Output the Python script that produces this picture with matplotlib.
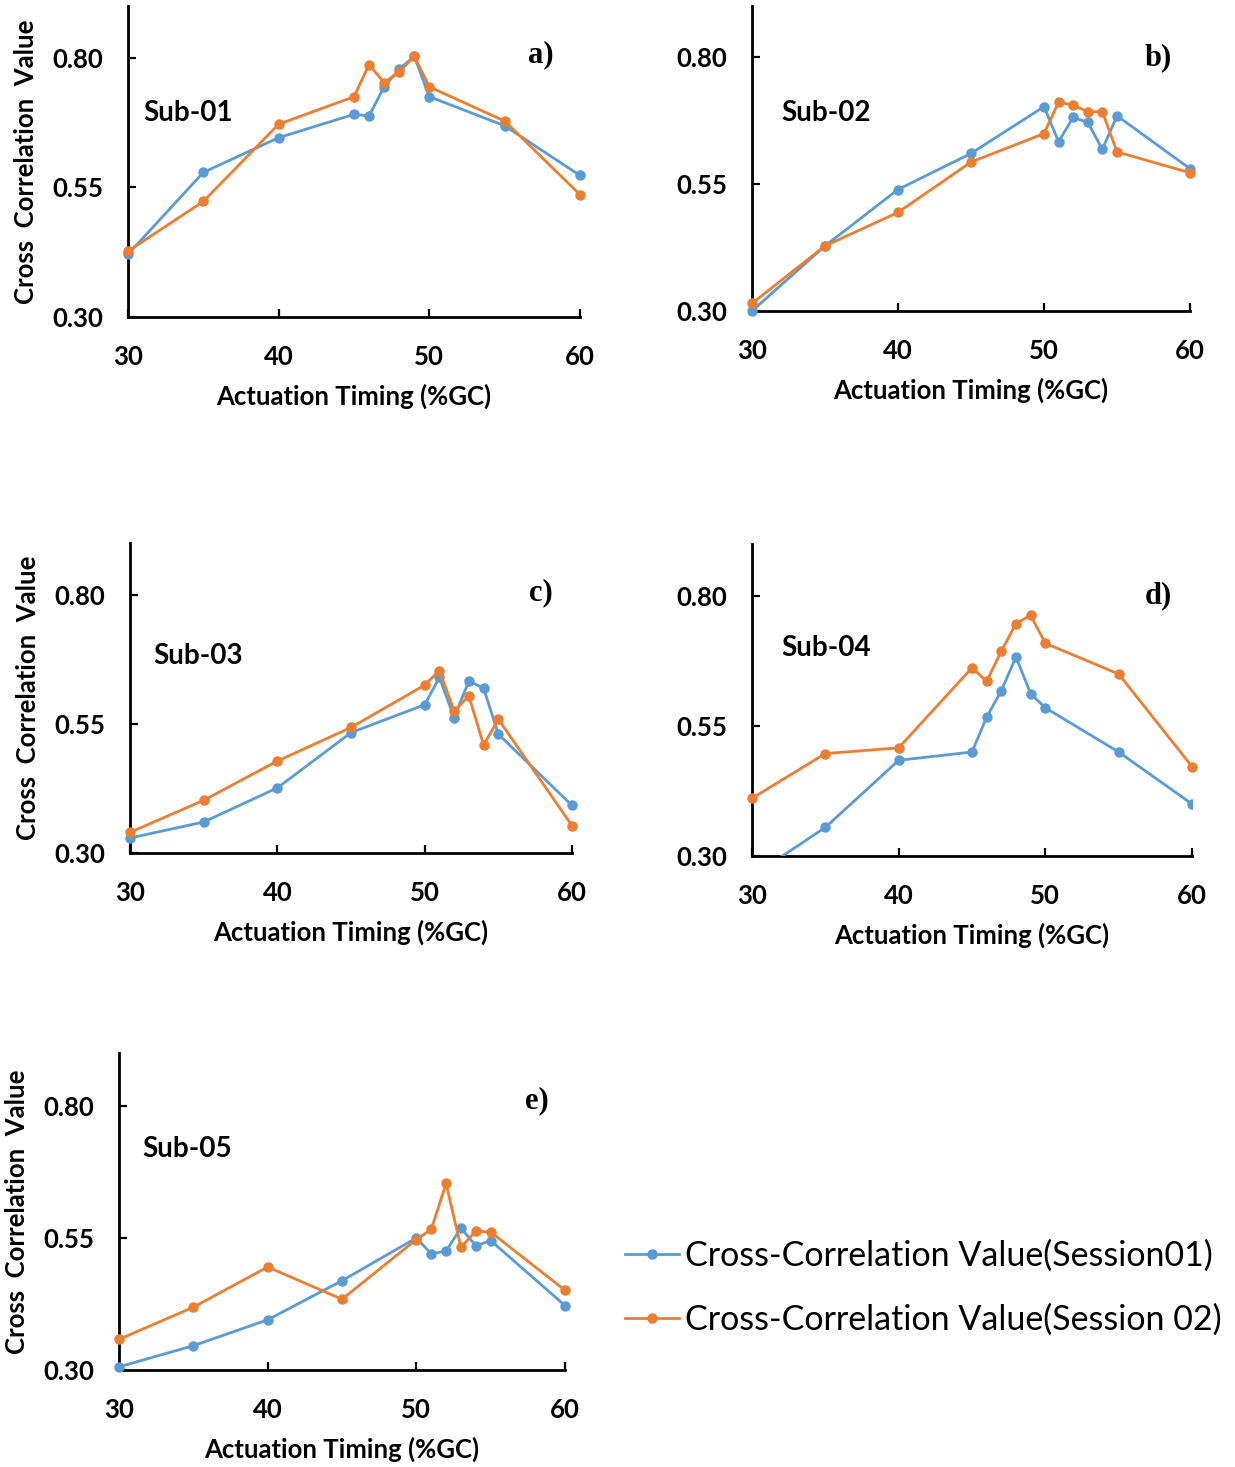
#!/usr/bin/env python3
"""
Cross correlation value vs actuation timing (%GC) for five subjects,
two sessions each. Panels a)-e) plus a shared legend in the empty slot.
"""
import matplotlib

matplotlib.use("Agg")
import matplotlib.pyplot as plt

# data ----------------------------------------------------------------

# x grids (actuation timing, %GC)
X_FINE_LOW = [30, 35, 40, 45, 46, 47, 48, 49, 50, 55, 60]   # sub-01, sub-04
X_FINE_HIGH = [30, 35, 40, 45, 50, 51, 52, 53, 54, 55, 60]  # sub-02, sub-03, sub-05

SUB01_S1 = [0.421, 0.579, 0.646, 0.691, 0.688, 0.744, 0.778, 0.803, 0.725, 0.669, 0.573]
SUB01_S2 = [0.427, 0.523, 0.672, 0.725, 0.787, 0.752, 0.773, 0.803, 0.744, 0.678, 0.536]

SUB02_S1 = [0.300, 0.428, 0.539, 0.610, 0.702, 0.633, 0.681, 0.671, 0.618, 0.684, 0.580]
SUB02_S2 = [0.315, 0.428, 0.494, 0.593, 0.649, 0.711, 0.705, 0.692, 0.692, 0.613, 0.572]

SUB03_S1 = [0.329, 0.360, 0.426, 0.533, 0.587, 0.640, 0.562, 0.633, 0.619, 0.530, 0.392]
SUB03_S2 = [0.340, 0.402, 0.478, 0.543, 0.625, 0.653, 0.575, 0.604, 0.509, 0.559, 0.353]

SUB04_S1 = [0.261, 0.355, 0.484, 0.500, 0.567, 0.618, 0.683, 0.612, 0.585, 0.500, 0.400]
SUB04_S2 = [0.411, 0.497, 0.508, 0.662, 0.636, 0.694, 0.747, 0.763, 0.709, 0.650, 0.472]

SUB05_S1 = [0.306, 0.346, 0.395, 0.469, 0.550, 0.520, 0.525, 0.569, 0.535, 0.545, 0.422]
SUB05_S2 = [0.358, 0.419, 0.495, 0.434, 0.547, 0.566, 0.653, 0.532, 0.563, 0.561, 0.451]

SUBJECTS = ["Sub-01", "Sub-02", "Sub-03", "Sub-04", "Sub-05"]
PANEL_TAGS = ["a)", "b)", "c)", "d)", "e)"]
SERIES_NAMES = ["Cross-Correlation Value(Session01)", "Cross-Correlation Value(Session 02)"]

X_TICKS = [30, 40, 50, 60]
Y_TICKS = [0.30, 0.55, 0.80]

# styling -------------------------------------------------------------

BLUE = "#5B9BD5"
ORANGE = "#ED7D31"
SANS = ["Lato", "DejaVu Sans"]
SERIF = ["Liberation Serif", "DejaVu Serif"]

FIG_W, FIG_H = 1235, 1467  # pixels

# axes boxes in pixels: (left, top, right, bottom)
BOXES = [
    (128, 6, 580, 317),
    (752, 6, 1190, 311),
    (130, 543, 572, 853),
    (752, 544, 1192, 856),
    (119, 1053, 565, 1370),
]
# which panels carry the y label
HAS_YLABEL = [True, False, True, False, True]
# (x, y) in data coords for subject label and panel tag
SUB_POS = [(31.0, 0.694), (32.0, 0.690), (31.6, 0.682), (32.0, 0.700), (31.6, 0.719)]
TAG_POS = [(57.4, 0.806), (57.8, 0.798), (57.9, 0.804), (57.7, 0.800), (58.1, 0.810)]


def px_box(box):
    l, t, r, b = box
    return [l / FIG_W, 1 - b / FIG_H, (r - l) / FIG_W, (b - t) / FIG_H]


def draw_panel(ax, x, s1, s2, idx):
    for ys, col in ((s1, BLUE), (s2, ORANGE)):
        # only clip when a series actually leaves the axis range
        clip = min(ys) < Y_TICKS[0]
        ax.plot(x, ys, color=col, lw=2.0, marker="o", ms=6.5, clip_on=clip, zorder=3)

    ax.set_xlim(30, 60)
    ax.set_ylim(0.30, 0.90)
    ax.set_xticks(X_TICKS)
    ax.set_yticks(Y_TICKS)
    ax.set_yticklabels([f"{v:.2f}" for v in Y_TICKS])

    for side in ("top", "right"):
        ax.spines[side].set_visible(False)
    for side in ("left", "bottom"):
        ax.spines[side].set_linewidth(2.0)

    ax.tick_params(axis="both", direction="in", length=6, width=1.6, labelsize=18.5)
    ax.tick_params(axis="x", pad=20)
    ax.tick_params(axis="y", pad=18)
    for lab in ax.get_xticklabels() + ax.get_yticklabels():
        lab.set_fontweight("bold")
        lab.set_family(SANS)

    ax.set_xlabel("Actuation Timing (%GC)", fontsize=18.5, fontweight="bold", family=SANS, labelpad=11)
    if HAS_YLABEL[idx]:
        ax.set_ylabel("Cross  Correlation  Value", fontsize=18.5, fontweight="bold", family=SANS, labelpad=10)

    sx, sy = SUB_POS[idx]
    ax.text(sx, sy, SUBJECTS[idx], fontsize=20, fontweight="bold", family=SANS, ha="left", va="center")
    tx, ty = TAG_POS[idx]
    ax.text(tx, ty, PANEL_TAGS[idx], fontsize=22, fontweight="bold", family=SERIF, ha="center", va="center")


def main():
    fig = plt.figure(figsize=(FIG_W / 100, FIG_H / 100), dpi=100)

    panels = [
        (X_FINE_LOW, SUB01_S1, SUB01_S2),
        (X_FINE_HIGH, SUB02_S1, SUB02_S2),
        (X_FINE_HIGH, SUB03_S1, SUB03_S2),
        (X_FINE_LOW, SUB04_S1, SUB04_S2),
        (X_FINE_HIGH, SUB05_S1, SUB05_S2),
    ]
    axes = []
    for i, (x, s1, s2) in enumerate(panels):
        ax = fig.add_axes(px_box(BOXES[i]))
        draw_panel(ax, x, s1, s2, i)
        axes.append(ax)

    # shared legend in the empty bottom-right slot
    handles = axes[-1].get_lines()[:2]
    fig.legend(
        handles, SERIES_NAMES,
        loc="center left", bbox_to_anchor=(625 / FIG_W, 1 - 1288 / FIG_H),
        frameon=False, prop={"family": SANS, "size": 24.5},
        handlelength=1.6, handletextpad=0.15, labelspacing=0.92, borderpad=0, borderaxespad=0,
    )

    fig.savefig("out.png", dpi=100)
    plt.close(fig)


if __name__ == "__main__":
    main()
